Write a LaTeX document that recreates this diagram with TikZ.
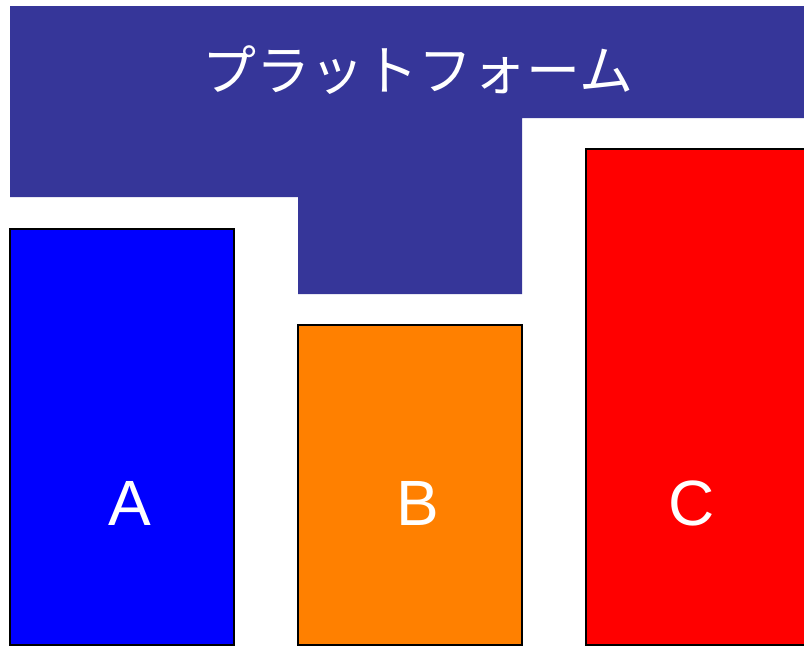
\documentclass[tikz,border=0pt]{standalone}
\usepackage{fontspec}
\setmainfont{Liberation Sans}
\newfontfamily\cjk{Noto Sans CJK JP}
\definecolor{platform}{RGB}{54,54,153}
\definecolor{boxA}{RGB}{0,0,255}
\definecolor{boxB}{RGB}{255,128,0}
\definecolor{boxC}{RGB}{255,0,0}
\begin{document}
\begin{tikzpicture}[x=0.75pt,y=-0.75pt,
  blk/.style={draw=black,line width=1.5pt},
  lbl/.style={text=white,font=\fontsize{48}{48}\selectfont,inner sep=0pt}]
\useasboundingbox (0,0) rectangle (804,646);
\clip (0,0) rectangle (804,646);
\fill[platform] (10,6) -- (806,6) -- (806,118) -- (522,118) -- (522,294) -- (298,294) -- (298,197) -- (10,197) -- cycle;
\node[text=white,font=\cjk\fontsize{40.5}{40.5}\selectfont,inner sep=0pt] (plat) at (418,70) {プラットフォーム};
\draw[blk,fill=boxA] (10,229) rectangle (234,645);
\draw[blk,fill=boxB] (298,325) rectangle (522,645);
\draw[blk,fill=boxC] (586,149) rectangle (810,645);
\node[lbl] (a) at (130,503) {A};
\node[lbl] (b) at (418,503) {B};
\node[lbl] (c) at (692,503) {C};
\end{tikzpicture}
\end{document}
